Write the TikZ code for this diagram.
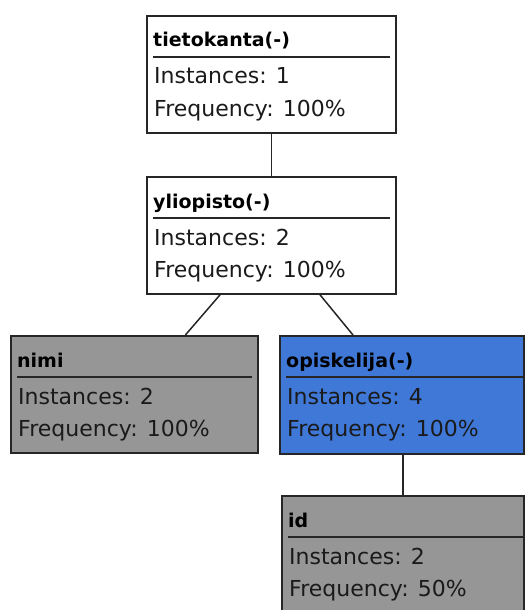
\documentclass[tikz,border=0pt]{standalone}
\usepackage{fontspec}
\setmainfont{DejaVu Sans}
\usetikzlibrary{calc}

\definecolor{boxgray}{HTML}{969696}
\definecolor{boxblue}{HTML}{4078D8}
\definecolor{edgecol}{HTML}{262626}
\definecolor{inkcol}{HTML}{1A1A1A}

\tikzset{
  panel/.style={draw=edgecol, line width=1.6pt, rectangle, inner sep=0pt, anchor=north west},
  headtext/.style={anchor=base west, inner sep=0pt, font=\bfseries\fontsize{19}{22}\selectfont, text=black},
  bodytext/.style={anchor=base west, inner sep=0pt, font=\fontsize{22}{26}\selectfont, text=inkcol},
  headrule/.style={draw=edgecol, line width=2pt},
  link/.style={draw=edgecol, line width=1.5pt},
}

% right inset of the rule under each heading
\def\ruleinset{7}

% \statbox{name}{x}{y}{width}{height}{fill}{title}{instances}{frequency}
\newcommand\statbox[9]{%
  \node[panel, fill=#6, minimum width=#4pt, minimum height=#5pt] (#1) at (#2,#3) {};
  \node[headtext] (#1-title) at ($(#1.north west)+(7,32)$) {#7};
  \draw[headrule] ($(#1.north west)+(7,42)$) -- ($(#1.north east)+(-\ruleinset,42)$);
  \node[bodytext] (#1-inst) at ($(#1.north west)+(8,69)$) {Instances: #8};
  \node[bodytext] (#1-freq) at ($(#1.north west)+(8,101)$) {Frequency: #9};
}

\begin{document}
\begin{tikzpicture}[x=1pt, y=-1pt]
  \fill[white] (0,0) rectangle (526,610);
  \clip (0,0) rectangle (526,610);

  \statbox{root}{146}{15}{249}{117}{white}{tietokanta(-)}{1}{100\%}
  \statbox{uni}{146}{176}{249}{117}{white}{yliopisto(-)}{2}{100\%}
  \statbox{nimi}{10}{335}{247}{117}{boxgray}{nimi}{2}{100\%}
  \def\ruleinset{2}
  \statbox{stud}{279}{335}{244}{118}{boxblue}{opiskelija(-)}{4}{100\%}
  \statbox{idbox}{281}{495}{242}{118}{boxgray}{id}{2}{50\%}

  \draw[link] (root) -- (uni);
  \draw[link] (uni) -- (nimi);
  \draw[link] (uni) -- (stud);
  \draw[link] (stud.south -| idbox.north) -- (idbox);
\end{tikzpicture}
\end{document}
